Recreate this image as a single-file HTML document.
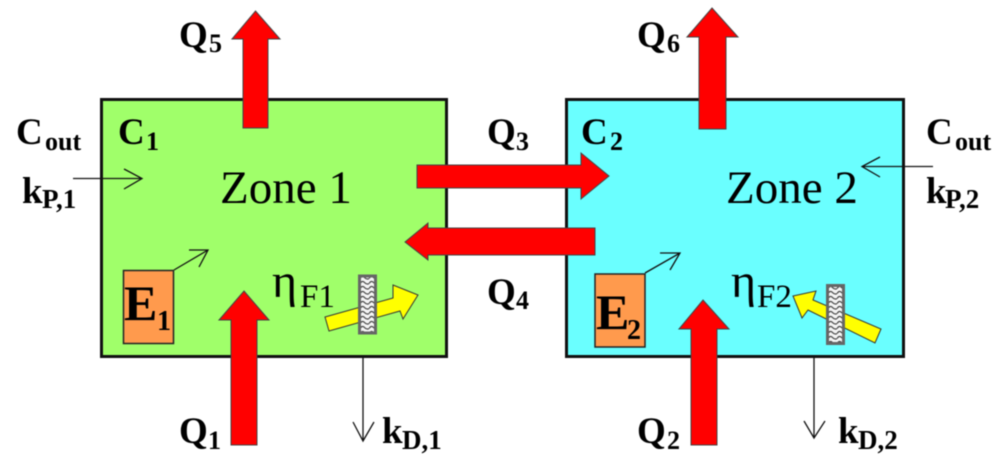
<!DOCTYPE html>
<html><head><meta charset="utf-8"><style>html,body{margin:0;padding:0;background:#fff;width:1000px;height:472px;overflow:hidden}svg{display:block;filter:blur(.45px)}text{font-family:"Liberation Serif",serif;fill:#000}.b{font-weight:bold;font-size:37px}.s{font-weight:bold;font-size:26px}.k{font-weight:bold;font-size:27px}</style></head><body>
<svg width="1000" height="472" viewBox="0 0 1000 472" xmlns="http://www.w3.org/2000/svg">
<rect x="101.500" y="99.500" width="345" height="257" fill="#a0ff6a" stroke="#111" stroke-width="3"/>
<rect x="566.500" y="99.500" width="337" height="257" fill="#6affff" stroke="#111" stroke-width="3"/>
<g fill="#ff0000" stroke="#444" stroke-width="1">
<polygon points="255.500,11 280,39 268,39 268,128 243,128 243,39 232,39"/>
<polygon points="712,8 738,37 726,37 726,129 699,129 699,37 687,37"/>
<polygon points="244,291 269,320 257,320 257,445 231,445 231,320 219,320"/>
<polygon points="703,300 729,329 717,329 717,445 691,445 691,329 679,329"/>
<polygon points="417,165 581,165 581,153 609,176 581,199 581,188 417,188"/>
<polygon points="595,228 428,228 428,223 405,242 428,260 428,255 595,255"/>
</g>
<g fill="#ff9a4d" stroke="#222" stroke-width="1.500">
<rect x="123.500" y="270.500" width="50" height="73"/>
<rect x="595" y="274" width="50" height="73"/>
</g>
<g fill="none" stroke="#111" stroke-width="1.300">
<path d="M73 178.500H142M124 169L142 178.500L124 189"/>
<path d="M174 270L208 250M189 250L208 250L199 267"/>
<path d="M363 358V441M353 422L363 441L374 422"/>
<path d="M933 166.500H862M880 157L862 166.500L880 177"/>
<path d="M645 273L680 253M660 253L680 253L670 270"/>
<path d="M814 358V438M804 421L814 438L825 421"/>
</g>
<polygon points="325,317 393,298 393,285 418,295 403,319 400,311 329,331" fill="#ffff00" stroke="#333" stroke-width="1"/>
<polygon points="793,296 816,291 813,300 881,329 875,343 808,310 802,318" fill="#ffff00" stroke="#333" stroke-width="1"/>
<defs><pattern id="w" width="9" height="5" patternUnits="userSpaceOnUse"><rect width="9" height="5" fill="#f4f4f4"/><path d="M0 3.500Q2.250 0 4.500 2.500T9 3.500" fill="none" stroke="#444" stroke-width="1.200"/></pattern></defs>
<rect x="359.500" y="276" width="16" height="57" fill="url(#w)" stroke="#666" stroke-width="3"/>
<rect x="827.500" y="285.500" width="16" height="58" fill="url(#w)" stroke="#666" stroke-width="3"/>
<text class="b" x="179" y="47">Q</text><text class="s" x="209" y="52">5</text>
<text class="b" x="637" y="47">Q</text><text class="s" x="667" y="52">6</text>
<text class="b" x="179" y="443">Q</text><text class="s" x="208" y="449">1</text>
<text class="b" x="637" y="443">Q</text><text class="s" x="667" y="449">2</text>
<text class="b" x="487" y="144">Q</text><text class="s" x="516" y="150">3</text>
<text class="b" x="487" y="304">Q</text><text class="s" x="516" y="309">4</text>
<text class="b" x="16" y="144">C</text><text class="s" x="45" y="150">out</text>
<text class="b" x="926" y="144">C</text><text class="s" x="955" y="150">out</text>
<text class="b" x="118" y="144">C</text><text class="s" x="146" y="150">1</text>
<text class="b" x="581" y="144">C</text><text class="s" x="610" y="150">2</text>
<text class="b" x="22" y="203">k</text><text class="k" x="42" y="208">P,1</text>
<text class="b" x="926" y="203">k</text><text class="k" x="945" y="208">P,2</text>
<text class="b" x="382" y="443">k</text><text class="k" x="402" y="449">D,1</text>
<text class="b" x="838" y="443">k</text><text class="k" x="858" y="449">D,2</text>
<text x="220" y="203" font-size="47">Zone 1</text>
<text x="726" y="203" font-size="47">Zone 2</text>
<text class="b" x="124" y="320" style="font-size:50px">E</text><text class="s" x="157" y="330" style="font-size:28px">1</text>
<text class="b" x="596" y="329" style="font-size:50px">E</text><text class="s" x="627" y="339" style="font-size:28px">2</text>
<text x="272" y="297" font-size="48">η</text><text x="300" y="307" font-size="33">F1</text>
<text x="731" y="297" font-size="48">η</text><text x="757" y="307" font-size="33">F2</text>
</svg>
</body></html>
